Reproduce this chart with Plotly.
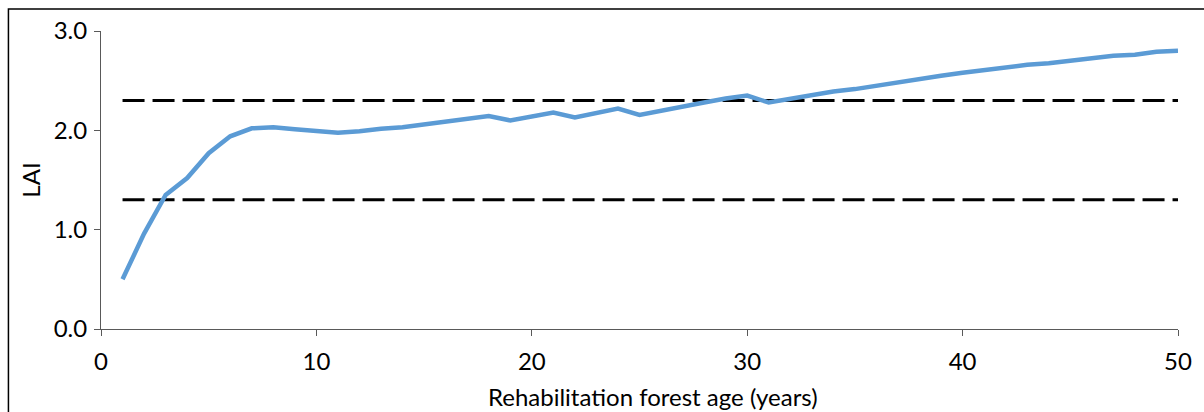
import plotly.graph_objects as go

age = list(range(1, 51))
lai = [0.50, 0.96, 1.35, 1.52, 1.77, 1.94, 2.02, 2.03, 2.01, 1.99,
       1.976, 1.99, 2.016, 2.03, 2.06, 2.09, 2.12, 2.145, 2.10, 2.14,
       2.18, 2.13, 2.17, 2.22, 2.155, 2.20, 2.24, 2.28, 2.32, 2.35,
       2.28, 2.32, 2.35, 2.39, 2.415, 2.45, 2.49, 2.52, 2.55, 2.58,
       2.61, 2.64, 2.66, 2.675, 2.70, 2.72, 2.75, 2.76, 2.79, 2.80]
ref_x = [1, 50]
upper_ref = [2.3, 2.3]
lower_ref = [1.3, 1.3]

x_ticks = [0, 10, 20, 30, 40, 50]
y_ticks = [0.0, 1.0, 2.0, 3.0]
x_title = "Rehabilitation forest age (years)"
y_title = "LAI"

FONT = "Lato"
FS = 24

fig = go.Figure()
for ref in (upper_ref, lower_ref):
    fig.add_trace(go.Scatter(x=ref_x, y=ref, mode="lines",
                             line=dict(color="black", width=3, dash="22px,8px"),
                             showlegend=False, hoverinfo="skip"))
fig.add_trace(go.Scatter(x=age, y=lai, mode="lines",
                         line=dict(color="#5B9BD5", width=4.5),
                         showlegend=False))

L, R, T, B = 101, 21, 31, 83
W, H = 1204, 412
pw, ph = W - L - R, H - T - B

fig.update_layout(
    width=W, height=H,
    margin=dict(l=L, r=R, t=T, b=B),
    paper_bgcolor="white", plot_bgcolor="white",
    font=dict(family=FONT, size=FS, color="black"),
    xaxis=dict(range=[0, 50], tickvals=x_ticks, showgrid=False, zeroline=False,
               showline=True, linecolor="#595959", linewidth=1,
               ticks="outside", ticklen=6, tickcolor="#595959",
               tickfont=dict(size=FS), ticklabelstandoff=5),
    yaxis=dict(range=[0, 3], tickvals=y_ticks, tickformat=".1f", showgrid=False, zeroline=False,
               showline=True, linecolor="#595959", linewidth=1,
               ticks="outside", ticklen=6, tickcolor="#595959",
               tickfont=dict(size=FS), ticklabelstandoff=2,
               title=dict(text=y_title, font=dict(size=FS), standoff=6)),
    annotations=[dict(text=x_title, xref="paper", yref="paper",
                      x=(656 - L) / pw, y=-(397 - (T + ph)) / ph,
                      xanchor="center", yanchor="middle", showarrow=False,
                      font=dict(size=FS))],
    shapes=[dict(type="rect", xref="paper", yref="paper",
                 x0=(8 - L) / pw, x1=(W + 10 - L) / pw,
                 y0=-(H + 10 - (T + ph)) / ph, y1=1 + (T - 9) / ph,
                 line=dict(color="black", width=1.5), fillcolor="rgba(0,0,0,0)",
                 layer="below")],
)

fig.write_html("out.html")
